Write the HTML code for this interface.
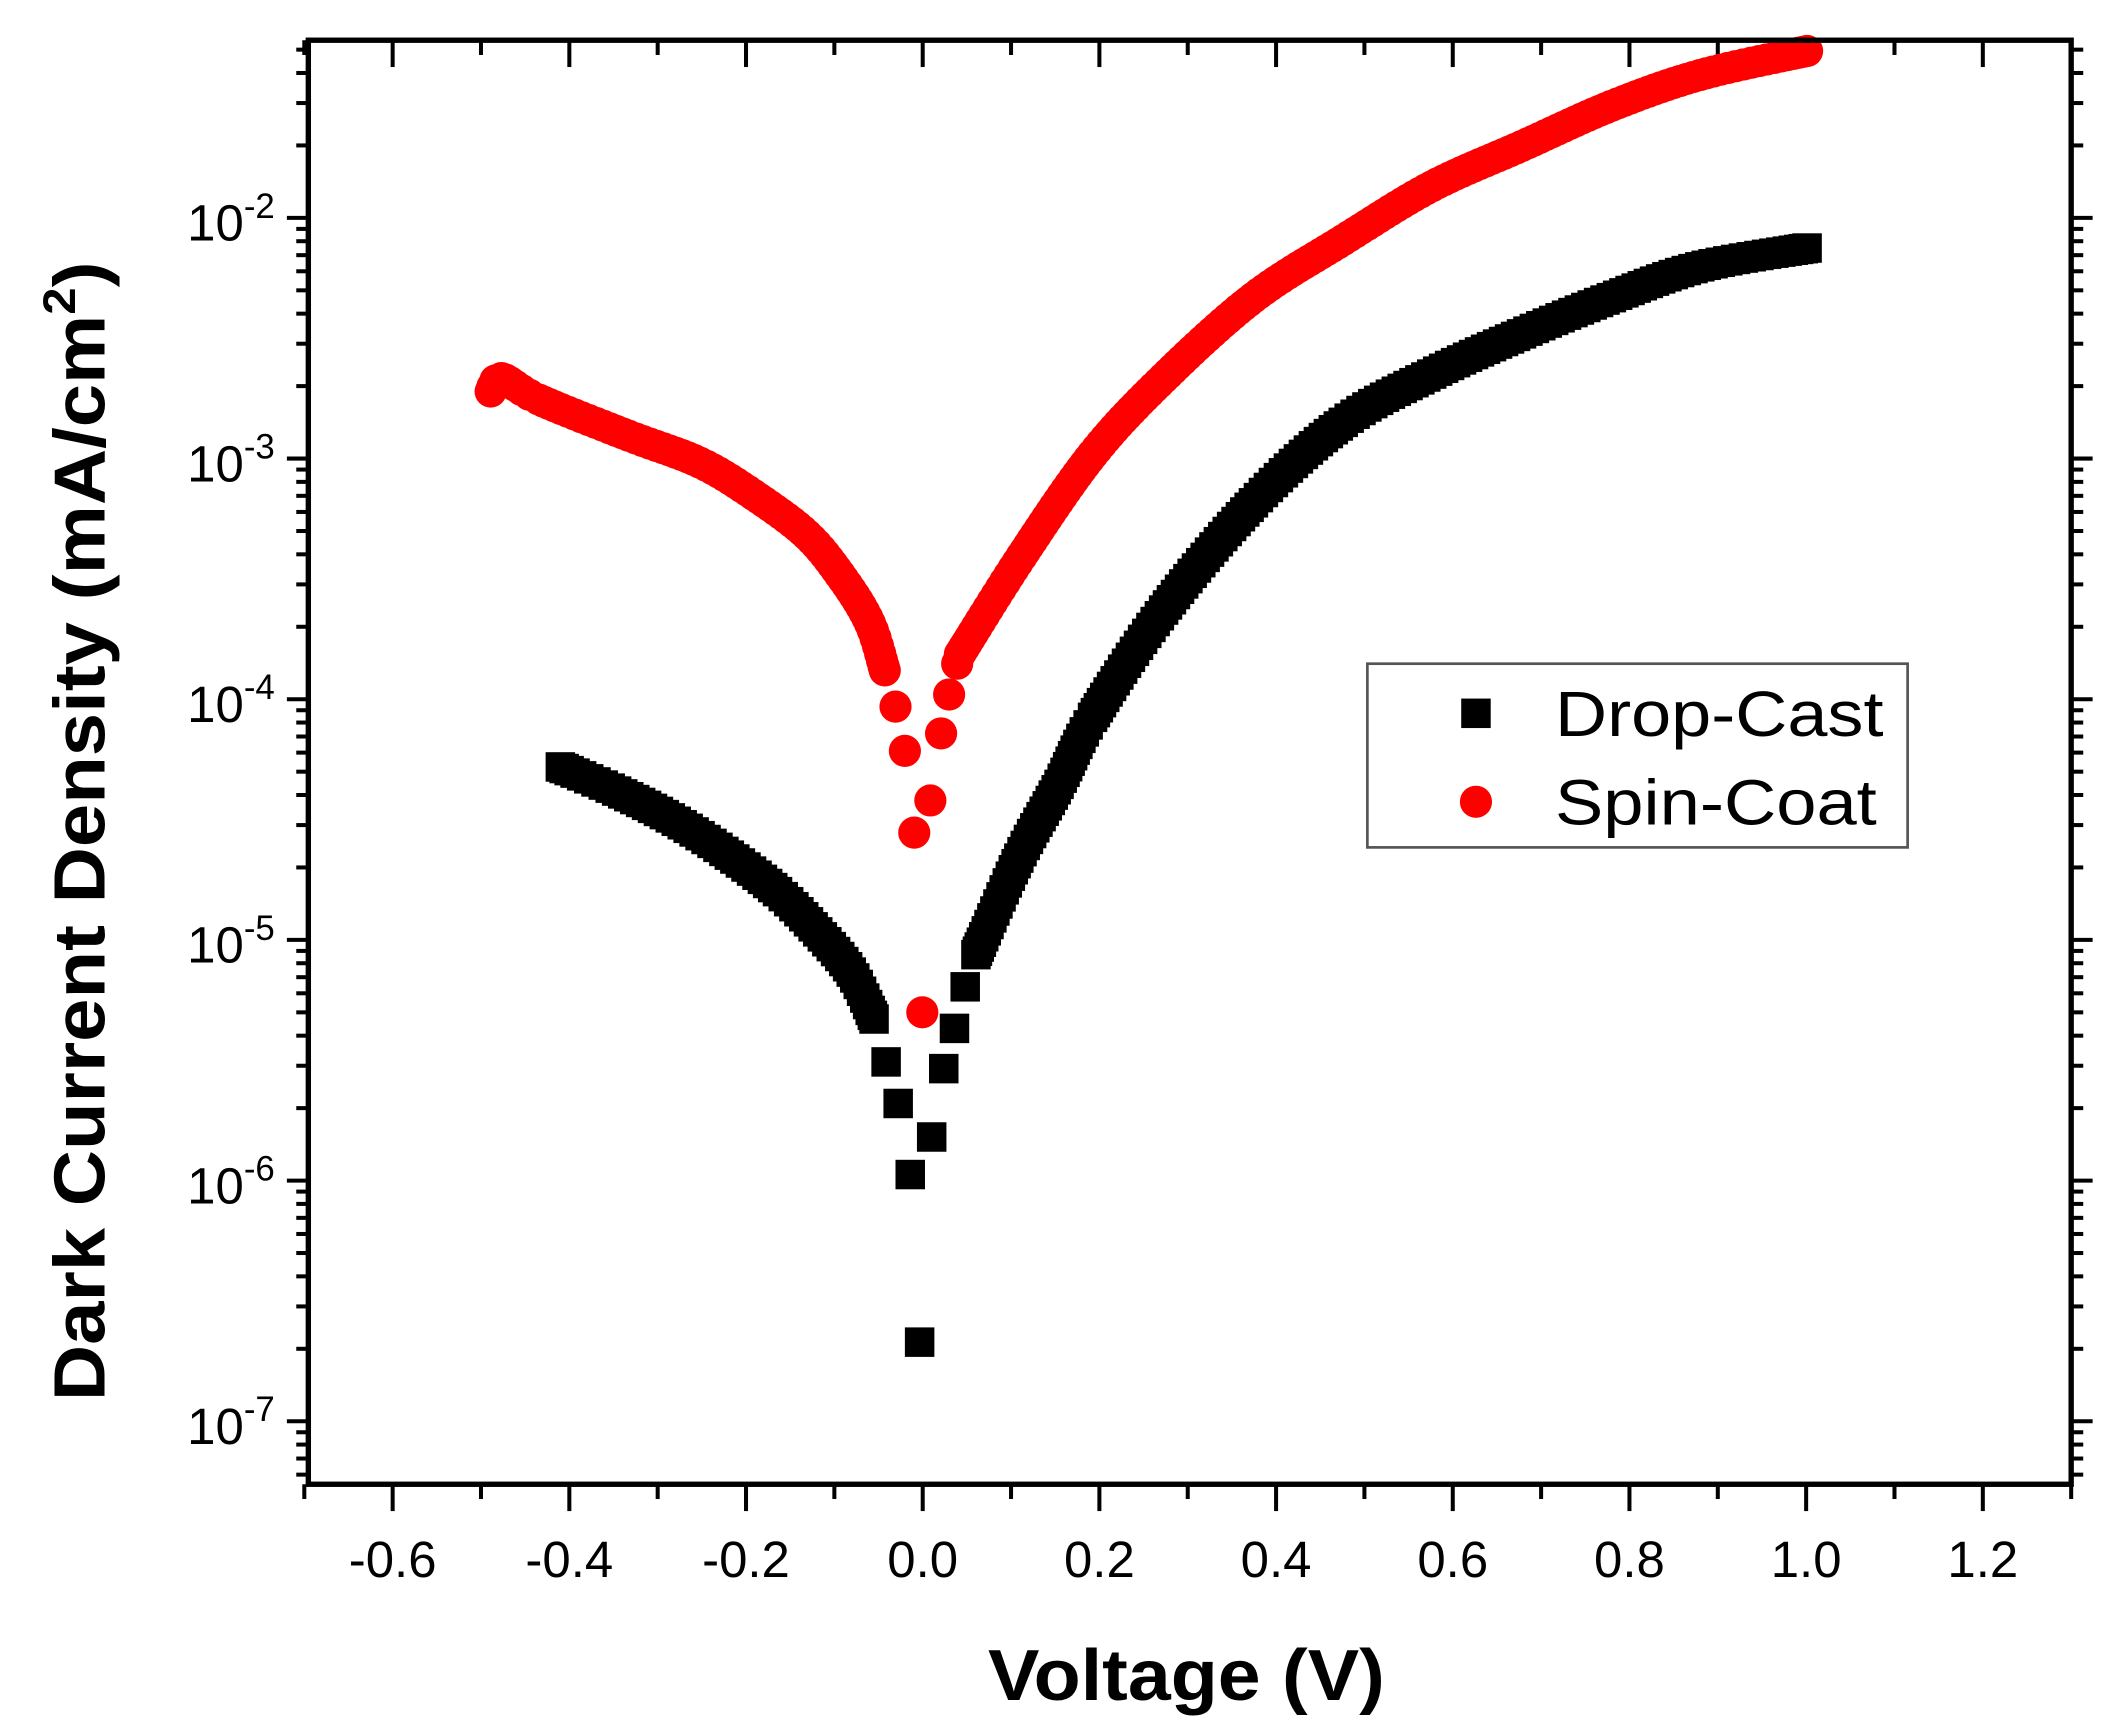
<!DOCTYPE html>
<html><head><meta charset="utf-8"><style>
html,body{margin:0;padding:0;background:#fff;}
svg{display:block;}
text{font-family:"Liberation Sans",Arial,sans-serif;}
</style></head><body>
<svg id="s" width="2102" height="1735" viewBox="0 0 1568 1294" preserveAspectRatio="none" xmlns="http://www.w3.org/2000/svg">
<rect width="1568" height="1294" fill="#fff"/>
<g id="ticks" stroke="#000" stroke-width="3"></g>
<g id="data"></g>
<rect x="230" y="30" width="1315" height="1077" fill="none" stroke="#000" stroke-width="4"/>
<g font-size="38" text-anchor="middle" id="xl"></g>
<g font-size="38" text-anchor="end" id="yl"></g>
<text x="885" y="1268" font-size="54" font-weight="bold" text-anchor="middle" textLength="296" lengthAdjust="spacingAndGlyphs">Voltage (V)</text>
<text transform="translate(78,620) rotate(-90)" font-size="54" font-weight="bold" text-anchor="middle" textLength="850" lengthAdjust="spacingAndGlyphs">Dark Current Density (mA/cm<tspan dy="-22" font-size="34">2</tspan><tspan dy="22">)</tspan></text>
<rect x="1020" y="495" width="403" height="137" fill="#fff" stroke="#555" stroke-width="2"/>
<rect x="1090" y="521" width="22" height="22" fill="#000"/>
<circle cx="1101" cy="598" r="12" fill="#f00"/>
<text x="1160" y="549" font-size="48" textLength="245" lengthAdjust="spacingAndGlyphs">Drop-Cast</text>
<text x="1160" y="615" font-size="48" textLength="240" lengthAdjust="spacingAndGlyphs">Spin-Coat</text>
</svg>
<script>
var NS="http://www.w3.org/2000/svg";
function el(p,n,a,t){var e=document.createElementNS(NS,n);for(var k in a)e.setAttribute(k,a[k]);if(t!==undefined)e.textContent=t;document.getElementById(p).appendChild(e);return e;}
function X(v){return 227+(v+0.7)*659;}
var dec=179.5;function Y(e){return 1060-(e+7)*dec;}
for(var i=-7;i<=13;i++){var v=i/10,x=X(v);var maj=(i%2==0);
 el('ticks','line',{x1:x,y1:1107,x2:x,y2:1107+(maj?20:11)});
 el('ticks','line',{x1:x,y1:30,x2:x,y2:30+(maj?20:11)});
 if(maj&&i>=-6&&i<=12) el('xl','text',{x:x,y:1176},(v<0?'-':'')+Math.abs(v).toFixed(1));}
for(var d=-8;d<=-1;d++){for(var m=1;m<10;m++){var y=Y(d+Math.log10(m));if(y<30||y>1107)continue;var L=(m==1?16:9);
 el('ticks','line',{x1:230-L,y1:y,x2:230,y2:y});el('ticks','line',{x1:1545,y1:y,x2:1545+L,y2:y});}}
for(var d=-7;d<=-2;d++){var y=Y(d);var t=el('yl','text',{x:205,y:y+17},'10');var ts=document.createElementNS(NS,'tspan');ts.setAttribute('dy','-17');ts.setAttribute('font-size','26');ts.textContent=''+d;t.appendChild(ts);}
function cr(a,step){var out=[];for(var i=0;i<a.length-1;i++){var p0=a[Math.max(0,i-1)],p1=a[i],p2=a[i+1],p3=a[Math.min(a.length-1,i+2)];
 var n=Math.max(1,Math.round(Math.hypot(p2[0]-p1[0],p2[1]-p1[1])/step));
 for(var j=0;j<n;j++){var t=j/n,t2=t*t,t3=t2*t;var f=function(k){return 0.5*((2*p1[k])+(-p0[k]+p2[k])*t+(2*p0[k]-5*p1[k]+4*p2[k]-p3[k])*t2+(-p0[k]+3*p1[k]-3*p2[k]+p3[k])*t3);};out.push([f(0),f(1)]);}}
 out.push(a[a.length-1]);return out;}
var bl=cr([[418,572],[460,590],[500,610],[540,635],[580,665],[610,695],[635,725],[652,760]],5);
bl=bl.concat([[661,792],[670,823],[679,876],[686,1001],[695,848],[704,797],[712,767],[720,736]]);
bl=bl.concat(cr([[728,712],[760,640],[790,585],[815,535],[868,455],[935,375],[1002,315],[1068,279],[1135,249],[1202,222],[1268,199],[1348,185]],5));
bl.forEach(function(p){el('data','rect',{x:p[0]-11,y:p[1]-11,width:22,height:22,fill:'#000'});});
var rd=cr([[366,292],[374,282],[402,298],[469,325],[522,345],[562,369],[602,399],[629,432],[649,465],[660,500]],5);
rd=rd.concat([[668,527],[675,560],[682,621],[688,755],[694,597],[702,547],[708,518],[714,495]]);
rd=rd.concat(cr([[716,488],[762,415],[815,339],[868,282],[935,222],[1002,179],[1068,139],[1135,109],[1202,79],[1268,56],[1348,38]],5));
rd.forEach(function(p){el('data','circle',{cx:p[0],cy:p[1],r:12,fill:'#f00'});});
</script>
</body></html>
